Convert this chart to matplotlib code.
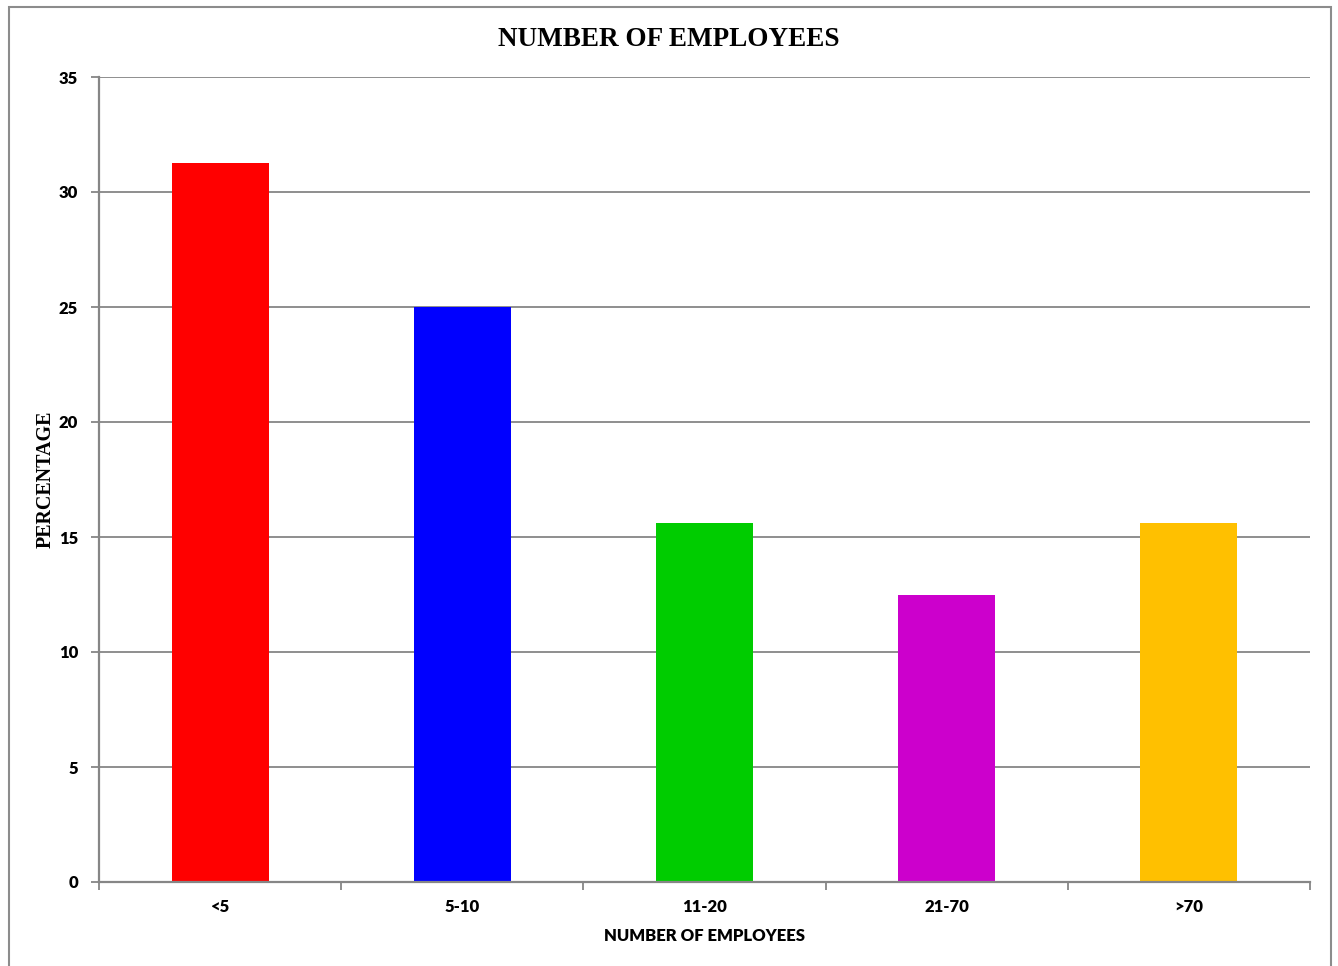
import matplotlib
matplotlib.use("Agg")
import matplotlib.pyplot as plt
from matplotlib.patches import Rectangle

categories = ["<5", "5-10", "11-20", "21-70", ">70"]
percentages = [31.25, 25.0, 15.625, 12.5, 15.625]
bar_colors = ["#FF0000", "#0000FF", "#00CC00", "#CC00CC", "#FFC000"]
y_ticks = [0, 5, 10, 15, 20, 25, 30, 35]

W, H = 1338, 966
fig = plt.figure(figsize=(W / 100, H / 100), dpi=100)
fig.patch.set_facecolor("white")

# outer chart border
fig.patches.append(Rectangle((9 / W, -0.01), (1331 - 9) / W, 1 - 7 / H + 0.01,
                             transform=fig.transFigure, fill=False,
                             edgecolor="#8c8c8c", linewidth=1.5, clip_on=False))

left, right, top, bottom = 99, 1310, 77, 882
ax = fig.add_axes([left / W, 1 - bottom / H, (right - left) / W, (bottom - top) / H])

grid_color = "#868686"
sans = ["Lato", "DejaVu Sans"]
serif = ["Liberation Serif", "DejaVu Serif"]
tick_size = 12

x = list(range(len(categories)))
ax.bar(x, percentages, width=0.4, color=bar_colors, zorder=3)

ax.set_xlim(-0.5, len(categories) - 0.5)
ax.set_ylim(0, 35)
ax.set_yticks(y_ticks)
ax.set_yticklabels([str(v) for v in y_ticks], fontfamily=sans, fontweight="heavy", fontsize=tick_size)
ax.yaxis.grid(True, color=grid_color, linewidth=1.3, zorder=0)

# category boundary ticks on x, labels centered under bars
ax.set_xticks([i - 0.5 for i in range(len(categories) + 1)])
ax.set_xticklabels([])
ax.set_xticks(x, minor=True)
ax.set_xticklabels(categories, minor=True, fontfamily=sans, fontweight="heavy", fontsize=tick_size)
ax.tick_params(axis="x", which="major", length=6, width=1.3, color=grid_color, direction="out")
ax.tick_params(axis="x", which="minor", length=0, pad=12)
ax.tick_params(axis="y", length=6, width=1.3, color=grid_color, direction="out", pad=9)

for s in ["top", "right"]:
    ax.spines[s].set_visible(False)
for s in ["left", "bottom"]:
    ax.spines[s].set_color(grid_color)
    ax.spines[s].set_linewidth(1.6)
    ax.spines[s].set_zorder(4)

fig.text(669 / W, 1 - 40 / H, "NUMBER OF EMPLOYEES", ha="center", va="center",
         fontfamily=serif, fontweight="bold", fontsize=19.5)
fig.text(46 / W, 1 - 479 / H, "PERCENTAGE", ha="center", va="center", rotation=90,
         fontfamily=serif, fontweight="bold", fontsize=14.4)
fig.text(704 / W, 1 - 936 / H, "NUMBER OF EMPLOYEES", ha="center", va="center",
         fontfamily=sans, fontweight="heavy", fontsize=12)

fig.savefig("out.png", dpi=100, facecolor="white")
